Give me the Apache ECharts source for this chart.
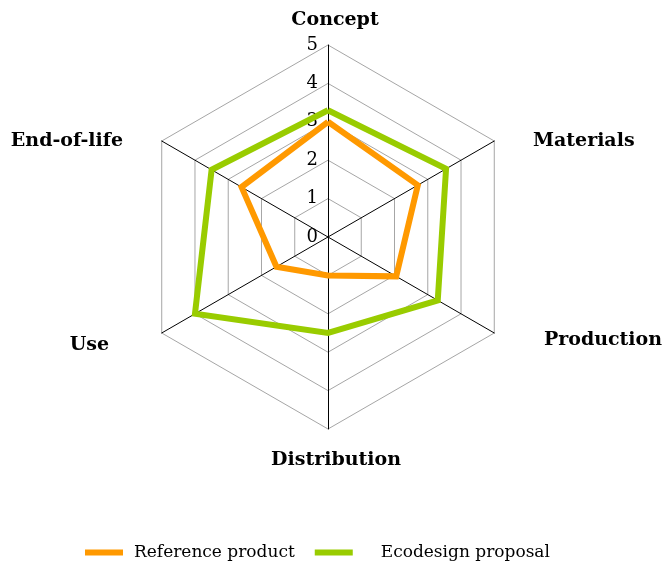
<!DOCTYPE html>
<html>
<head>
<meta charset="utf-8">
<script src="https://cdn.jsdelivr.net/npm/echarts@6/dist/echarts.min.js"></script>
<style>
html, body { margin: 0; padding: 0; background: #fff; }
#chart { width: 662px; height: 567px; }
</style>
</head>
<body>
<div id="chart"></div>
<script>
// categories in clockwise order from top
var categories = ['Concept', 'Materials', 'Production', 'Distribution', 'Use', 'End-of-life'];
var referenceProduct = [3.0, 2.7, 2.05, 1.0, 1.55, 2.6];
var ecodesignProposal = [3.3, 3.55, 3.3, 2.5, 4.0, 3.5];
var axisMax = 5;

// echarts radar goes counterclockwise, so reorder
var order = [0, 5, 4, 3, 2, 1];
function reorder(arr) {
    return order.map(function (i) { return arr[i]; });
}

// rich style key per axis name (used for nudging labels)
var nameKeys = {
    'Concept': 'c',
    'Materials': 'm',
    'Production': 'p',
    'Distribution': 'd',
    'Use': 'u',
    'End-of-life': 'e'
};

var indicators = reorder(categories).map(function (name, i) {
    var ind = { name: name, min: 0, max: axisMax };
    if (i === 0) {
        // only the Concept axis carries the 0..5 labels
        ind.axisLabel = {
            show: true,
            color: '#000',
            fontFamily: 'DejaVu Serif',
            fontSize: 18,
            margin: 10,
            showMinLabel: true,
            showMaxLabel: true
        };
    }
    return ind;
});

function nameStyle(padding) {
    return { fontFamily: 'DejaVu Serif', fontWeight: 'bold', fontSize: 19, color: '#000', padding: padding };
}

var chart = echarts.init(document.getElementById('chart'));
var option = {
    animation: false,
    backgroundColor: '#fff',
    legend: {
        left: 80,
        top: 539,
        itemWidth: 38,
        itemHeight: 6,
        itemGap: 20,
        icon: 'rect',
        textStyle: {
            fontFamily: 'DejaVu Serif',
            fontSize: 17,
            color: '#000'
        },
        data: [
            { name: 'Reference product', textStyle: { padding: [0, 0, 0, 6] } },
            { name: 'Ecodesign proposal', textStyle: { padding: [0, 0, 0, 23] } }
        ]
    },
    radar: {
        center: [328, 237],
        radius: 192,
        startAngle: 90,
        splitNumber: 5,
        shape: 'polygon',
        nameGap: 10,
        axisName: {
            color: '#000',
            fontFamily: 'DejaVu Serif',
            fontWeight: 'bold',
            fontSize: 19,
            formatter: function (name) {
                return '{' + nameKeys[name] + '|' + name + '}';
            },
            rich: {
                c: nameStyle([0, 0, 5, 14]),
                m: nameStyle([10, 0, 0, 30]),
                p: nameStyle([4, 0, 0, 41]),
                d: nameStyle([12, 0, 0, 16]),
                u: nameStyle([14, 44, 0, 0]),
                e: nameStyle([10, 30, 0, 0])
            }
        },
        axisLine: { lineStyle: { color: '#000', width: 1 } },
        splitLine: { lineStyle: { color: '#a6a6a6', width: 1 } },
        splitArea: { show: false },
        axisTick: { show: false },
        axisLabel: { show: false },
        indicator: indicators
    },
    series: [{
        type: 'radar',
        symbol: 'none',
        data: [
            {
                name: 'Reference product',
                value: reorder(referenceProduct),
                lineStyle: { color: '#ff9900', width: 6, join: 'miter' },
                itemStyle: { color: '#ff9900' }
            },
            {
                name: 'Ecodesign proposal',
                value: reorder(ecodesignProposal),
                lineStyle: { color: '#99cc00', width: 6, join: 'miter' },
                itemStyle: { color: '#99cc00' }
            }
        ]
    }]
};
chart.setOption(option);
</script>
</body>
</html>
